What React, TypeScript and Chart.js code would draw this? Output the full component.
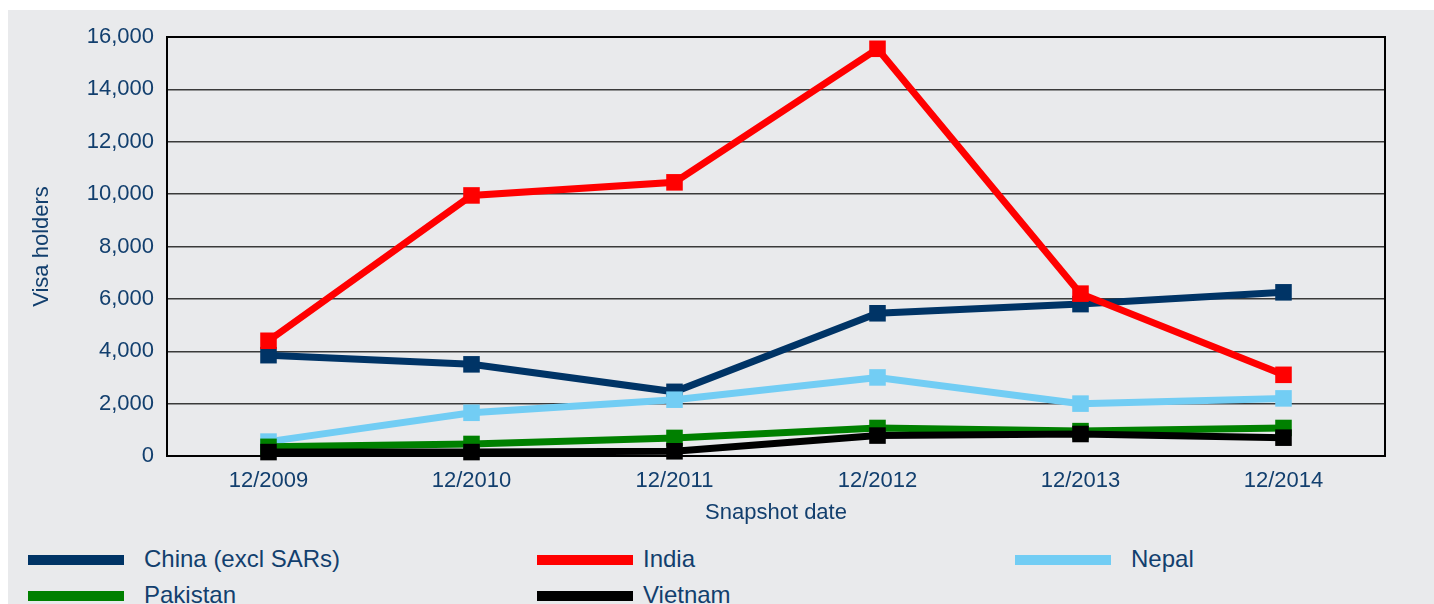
import React, { useEffect, useRef } from "react";
import { Chart, registerables } from "chart.js";

Chart.register(...registerables);

// ---- Data ----
const categories = ["12/2009", "12/2010", "12/2011", "12/2012", "12/2013", "12/2014"];
const seriesNames = ["China (excl SARs)", "India", "Nepal", "Pakistan", "Vietnam"];
const chinaValues = [3850, 3500, 2450, 5450, 5800, 6250];
const indiaValues = [4400, 9950, 10450, 15550, 6200, 3100];
const nepalValues = [550, 1650, 2150, 3000, 2000, 2200];
const pakistanValues = [350, 460, 690, 1070, 950, 1070];
const vietnamValues = [150, 150, 180, 780, 840, 700];
const yTickValues = [0, 2000, 4000, 6000, 8000, 10000, 12000, 14000, 16000];
const xTitle = "Snapshot date";
const yTitle = "Visa holders";

// ---- Styles ----
const seriesColors = ["#003466", "#ff0000", "#72cdf4", "#008000", "#000000"];
const allValues = [chinaValues, indiaValues, nepalValues, pakistanValues, vietnamValues];
const TEXT = "#123f6e";
const BG = "#e9eaec";
const FONT = "'Liberation Sans', Arial, Helvetica, sans-serif";
const legendColX = [20, 529, 1007];
const legendTextX = [136, 635, 1123];
const legendRowY = [550, 586];

const W = 1426;
const H = 530;

const borderPlugin = {
  id: "plotBorder",
  beforeDatasetsDraw(chart: any) {
    const { ctx, chartArea } = chart;
    ctx.save();
    ctx.strokeStyle = "#000";
    ctx.lineWidth = 2;
    ctx.strokeRect(chartArea.left, chartArea.top, chartArea.right - chartArea.left, chartArea.bottom - chartArea.top);
    ctx.restore();
  },
};

export default function App() {
  const ref = useRef<HTMLCanvasElement | null>(null);

  useEffect(() => {
    if (!ref.current) return;
    const n = seriesNames.length;
    const chart = new Chart(ref.current, {
      type: "line",
      data: {
        labels: categories,
        datasets: seriesNames.map((name, i) => ({
          label: name,
          data: allValues[i],
          borderColor: seriesColors[i],
          backgroundColor: seriesColors[i],
          pointBackgroundColor: seriesColors[i],
          pointBorderColor: seriesColors[i],
          borderWidth: 7,
          pointStyle: "rect",
          pointRadius: 11.7,
          pointHoverRadius: 11.7,
          pointBorderWidth: 0,
          tension: 0,
          fill: false,
          clip: false,
          order: n - i,
        })),
      },
      options: {
        animation: false,
        responsive: false,
        maintainAspectRatio: false,
        events: [],
        layout: { padding: { top: 27, right: 49, left: 0, bottom: 0 } },
        plugins: {
          legend: { display: false },
          tooltip: { enabled: false },
          title: { display: false },
        },
        scales: {
          x: {
            type: "category",
            offset: true,
            grid: { display: false, drawTicks: false },
            border: { display: false },
            ticks: {
              color: TEXT,
              font: { family: FONT, size: 22 },
              padding: 12,
              maxRotation: 0,
              autoSkip: false,
            },
            title: {
              display: true,
              text: xTitle,
              color: TEXT,
              font: { family: FONT, size: 22 },
              padding: { top: 0, bottom: 14 },
            },
            afterFit: (s: any) => {
              s.height = 84;
            },
          },
          y: {
            min: 0,
            max: 16000,
            grid: { color: "#3a3a3a", lineWidth: 1.5, drawTicks: false },
            border: { display: false },
            afterBuildTicks: (s: any) => {
              s.ticks = yTickValues.map((v) => ({ value: v }));
            },
            ticks: {
              color: TEXT,
              font: { family: FONT, size: 22 },
              padding: 13,
              callback: (v: any) => Number(v).toLocaleString("en-US"),
            },
            title: {
              display: true,
              text: yTitle,
              color: TEXT,
              font: { family: FONT, size: 22 },
              padding: { top: 21, bottom: 0 },
            },
            afterFit: (s: any) => {
              s.width = 159;
            },
          },
        },
      },
      plugins: [borderPlugin],
    });
    return () => chart.destroy();
  }, []);

  return (
    <div
      style={{
        position: "fixed",
        left: 8,
        top: 10,
        width: W,
        height: 594,
        background: BG,
        overflow: "hidden",
      }}
    >
      <canvas ref={ref} width={W} height={H} style={{ display: "block", width: W, height: H }} />
      {seriesNames.map((name, i) => {
        const col = i % 3;
        const row = Math.floor(i / 3);
        const x = legendColX[col];
        const y = legendRowY[row];
        return (
          <div key={name}>
            <div
              style={{
                position: "absolute",
                left: x,
                top: y - 5,
                width: 96,
                height: 10,
                background: seriesColors[i],
              }}
            />
            <div
              style={{
                position: "absolute",
                left: legendTextX[col],
                top: y - 16,
                height: 30,
                lineHeight: "30px",
                fontFamily: FONT,
                fontSize: 24,
                color: TEXT,
                whiteSpace: "nowrap",
              }}
            >
              {name}
            </div>
          </div>
        );
      })}
    </div>
  );
}
